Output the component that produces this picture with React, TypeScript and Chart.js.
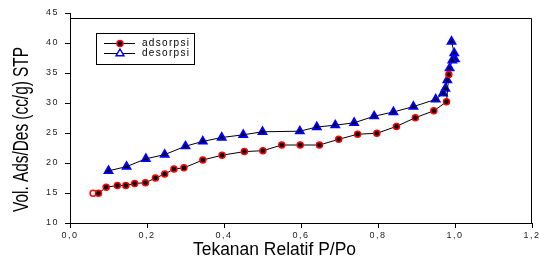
import React, { useEffect, useRef } from 'react';
import { Chart, registerables } from 'chart.js';

Chart.register(...registerables);

// ---- data ----
const adsX = [0.06, 0.074, 0.094, 0.123, 0.145, 0.168, 0.196, 0.222, 0.246, 0.27, 0.296, 0.345, 0.395, 0.453, 0.501, 0.55, 0.598, 0.648, 0.698, 0.747, 0.797, 0.848, 0.897, 0.945, 0.978, 0.984];
const adsY = [14.95, 14.95, 15.95, 16.25, 16.25, 16.6, 16.7, 17.5, 18.15, 19.0, 19.2, 20.5, 21.3, 21.9, 22.05, 23.0, 23.0, 23.0, 23.95, 24.8, 24.95, 26.1, 27.55, 28.7, 30.2, 34.75];

const desX = [0.991, 0.998, 1.0, 0.993, 0.986, 0.98, 0.975, 0.969, 0.95, 0.892, 0.84, 0.79, 0.738, 0.689, 0.641, 0.597, 0.5, 0.45, 0.394, 0.345, 0.3, 0.246, 0.197, 0.147, 0.1];
const desY = [40.25, 38.3, 37.3, 37.1, 35.8, 33.8, 32.4, 31.6, 30.6, 29.4, 28.5, 27.8, 26.7, 26.3, 26.0, 25.3, 25.2, 24.7, 24.25, 23.6, 22.8, 21.4, 20.7, 19.4, 18.7];

const seriesNames = ['adsorpsi', 'desorpsi'];
const xTicks = [0, 0.2, 0.4, 0.6, 0.8, 1.0, 1.2];
const yTicks = [10, 15, 20, 25, 30, 35, 40, 45];
const xTitle = 'Tekanan Relatif P/Po';
const yTitle = 'Vol. Ads/Des (cc/g) STP';
const FRAME_TOP = 44.17;

const FONT = "'Liberation Sans', Arial, sans-serif";

const framePlugin = {
  id: 'frame',
  beforeDraw(chart: any) {
    chart.ctx.letterSpacing = '1.5px';
  },
  beforeDatasetsDraw(chart: any) {
    const { ctx, chartArea, scales } = chart;
    const top = Math.round(scales.y.getPixelForValue(FRAME_TOP)) + 0.5;
    const right = Math.round(scales.x.getPixelForValue(xTicks[xTicks.length - 1])) - 0.5;
    ctx.save();
    ctx.strokeStyle = '#000';
    ctx.lineWidth = 1;
    ctx.beginPath();
    ctx.moveTo(chartArea.left, top);
    ctx.lineTo(right, top);
    ctx.lineTo(right, chartArea.bottom);
    ctx.stroke();
    ctx.restore();
  },
  afterDraw(chart: any) {
    const { ctx } = chart;
    // Y title (compressed, rotated)
    ctx.save();
    ctx.letterSpacing = '0px';
    ctx.fillStyle = '#000';
    ctx.font = `22px ${FONT}`;
    ctx.textAlign = 'center';
    ctx.textBaseline = 'alphabetic';
    const yw = ctx.measureText(yTitle).width;
    ctx.translate(28, 129.5);
    ctx.rotate(-Math.PI / 2);
    ctx.scale(165 / yw, 1);
    ctx.fillText(yTitle, 0, 0);
    ctx.restore();

    // X title
    ctx.save();
    ctx.letterSpacing = '0px';
    ctx.fillStyle = '#000';
    ctx.font = `17.5px ${FONT}`;
    ctx.textAlign = 'center';
    ctx.textBaseline = 'alphabetic';
    const xw = ctx.measureText(xTitle).width;
    ctx.translate(274.5, 255.3);
    ctx.scale(163 / xw, 1);
    ctx.fillText(xTitle, 0, 0);
    ctx.restore();

    // Legend
    ctx.save();
    ctx.strokeStyle = '#000';
    ctx.lineWidth = 1;
    ctx.strokeRect(96.5, 33.5, 98, 31);
    const rows = [43, 53];
    rows.forEach((ry, i) => {
      ctx.strokeStyle = '#000';
      ctx.lineWidth = 1;
      ctx.beginPath();
      ctx.moveTo(104, ry + 0.5);
      ctx.lineTo(135, ry + 0.5);
      ctx.stroke();
      if (i === 0) {
        ctx.beginPath();
        ctx.arc(120, ry + 0.5, 3, 0, Math.PI * 2);
        ctx.fillStyle = '#000';
        ctx.fill();
        ctx.strokeStyle = '#ff0000';
        ctx.lineWidth = 1.5;
        ctx.stroke();
      } else {
        const r = 4.5;
        const cx = 120, cy = ry + 0.5;
        ctx.beginPath();
        ctx.moveTo(cx, cy - r);
        ctx.lineTo(cx + r * 0.866, cy + r * 0.5);
        ctx.lineTo(cx - r * 0.866, cy + r * 0.5);
        ctx.closePath();
        ctx.fillStyle = '#fff';
        ctx.fill();
        ctx.strokeStyle = '#0000ff';
        ctx.lineWidth = 1.5;
        ctx.stroke();
      }
      ctx.fillStyle = '#000';
      ctx.font = `10px ${FONT}`;
      ctx.letterSpacing = '1.3px';
      ctx.textAlign = 'left';
      ctx.textBaseline = 'middle';
      ctx.fillText(seriesNames[i], 142, ry + 0.5);
    });
    ctx.restore();
  },
};

export default function App() {
  const ref = useRef<HTMLCanvasElement | null>(null);

  useEffect(() => {
    if (!ref.current) return;
    const chart = new Chart(ref.current, {
      type: 'scatter',
      data: {
        datasets: [
          {
            label: seriesNames[0],
            data: adsX.map((x, i) => ({ x, y: adsY[i] })),
            showLine: true,
            borderColor: '#000',
            borderWidth: 1,
            tension: 0,
            pointStyle: 'circle',
            pointRadius: 3,
            pointBorderWidth: 1.5,
            pointBorderColor: '#ff0000',
            pointBackgroundColor: adsX.map((_, i) => (i === 0 ? '#ffffff' : '#000000')),
          },
          {
            label: seriesNames[1],
            data: desX.map((x, i) => ({ x, y: desY[i] })),
            showLine: true,
            borderColor: '#000',
            borderWidth: 1,
            tension: 0,
            pointStyle: 'triangle',
            pointRadius: 4.5,
            pointBorderWidth: 1.8,
            pointBorderColor: '#0000ff',
            pointBackgroundColor: '#000000',
          },
        ],
      },
      options: {
        animation: false,
        responsive: false,
        events: [],
        layout: { padding: { top: 13, right: 7, left: 0, bottom: 0 } },
        plugins: {
          legend: { display: false },
          tooltip: { enabled: false },
        },
        scales: {
          x: {
            type: 'linear',
            min: xTicks[0],
            max: xTicks[xTicks.length - 1],
            afterBuildTicks: (s: any) => {
              s.ticks = xTicks.map((v) => ({ value: v }));
            },
            afterFit: (s: any) => {
              s.height = 37;
              s.paddingLeft = 0;
              s.paddingRight = 0;
            },
            grid: { display: true, drawOnChartArea: false, drawTicks: true, tickLength: 5, color: '#000' },
            border: { display: true, color: '#000', width: 1 },
            ticks: {
              autoSkip: false,
              maxRotation: 0,
              padding: 2,
              color: '#222',
              font: { family: FONT, size: 9 },
              callback: (v: any) => Number(v).toFixed(1).replace('.', ','),
            },
          },
          y: {
            type: 'linear',
            min: yTicks[0],
            max: yTicks[yTicks.length - 1],
            afterBuildTicks: (s: any) => {
              s.ticks = yTicks.map((v) => ({ value: v }));
            },
            afterFit: (s: any) => {
              s.width = 70;
              s.paddingTop = 0;
              s.paddingBottom = 0;
            },
            grid: { display: true, drawOnChartArea: false, drawTicks: true, tickLength: 5, color: '#000' },
            border: { display: true, color: '#000', width: 1 },
            ticks: {
              autoSkip: false,
              padding: 6,
              color: '#222',
              font: { family: FONT, size: 9 },
              callback: (v: any) => String(v),
            },
          },
        },
      },
      plugins: [framePlugin],
    } as any);
    return () => chart.destroy();
  }, []);

  return (
    <div style={{ position: 'fixed', left: 0, top: 0, width: 539, height: 260, background: '#fff' }}>
      <canvas ref={ref} width={539} height={260} style={{ display: 'block' }} />
    </div>
  );
}
